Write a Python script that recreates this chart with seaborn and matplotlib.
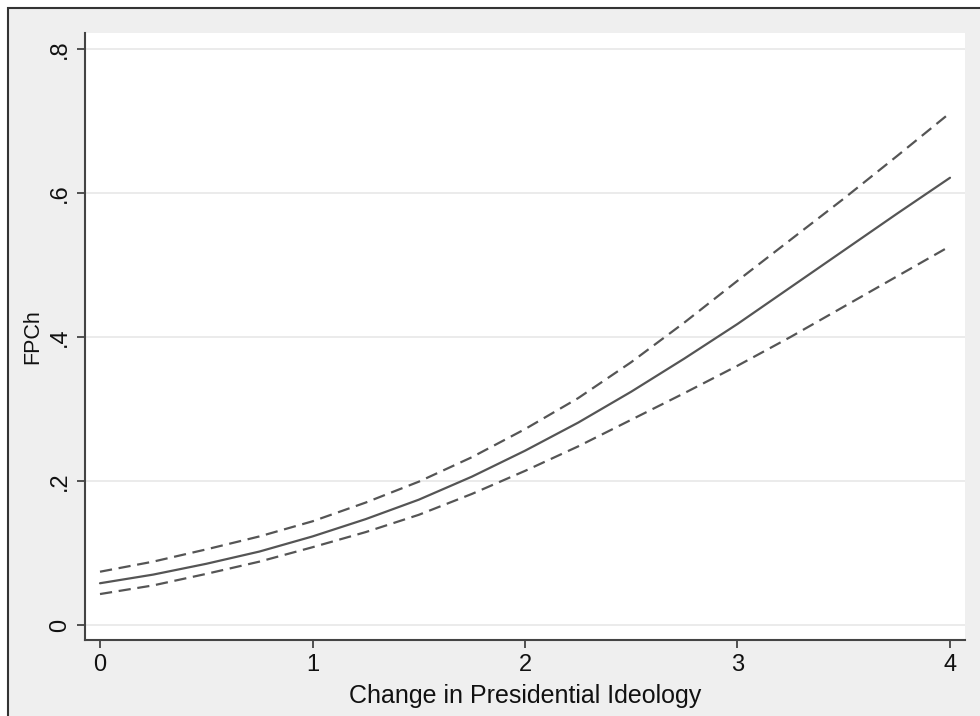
import numpy as np
import pandas as pd
import seaborn as sns
import matplotlib.pyplot as plt
from matplotlib.patches import Rectangle

# values
ideology = [0, 0.25, 0.5, 0.75, 1, 1.25, 1.5, 1.75, 2, 2.25, 2.5, 2.75, 3, 3.25, 3.5, 3.75, 4]
fpch = [0.058, 0.070, 0.085, 0.102, 0.123, 0.147, 0.174, 0.206, 0.242, 0.281, 0.324, 0.370, 0.418, 0.469, 0.520, 0.571, 0.621]
upper = [0.074, 0.088, 0.105, 0.123, 0.144, 0.170, 0.199, 0.233, 0.272, 0.315, 0.365, 0.420, 0.478, 0.535, 0.592, 0.651, 0.711]
lower = [0.043, 0.055, 0.071, 0.088, 0.108, 0.129, 0.153, 0.182, 0.214, 0.248, 0.285, 0.322, 0.360, 0.400, 0.442, 0.484, 0.526]

yticks = [0, 0.2, 0.4, 0.6, 0.8]
ytick_labels = ["0", ".2", ".4", ".6", ".8"]
xticks = [0, 1, 2, 3, 4]

df = pd.concat([
    pd.DataFrame({"x": ideology, "y": fpch, "series": "est"}),
    pd.DataFrame({"x": ideology, "y": upper, "series": "hi"}),
    pd.DataFrame({"x": ideology, "y": lower, "series": "lo"}),
])

sns.set_theme(style="white")
plt.rcParams['font.family'] = ['Liberation Sans', 'DejaVu Sans']

line_col = '#555555'
fig = plt.figure(figsize=(9.8, 7.16), dpi=100, facecolor='white')
# grey page with dark frame (left/top edges visible)
fig.patches.append(Rectangle((8 / 980, -0.05), 1.05, 1 - 8 / 716 + 0.05, transform=fig.transFigure,
                             facecolor='#efefef', edgecolor='#333333', linewidth=1.5, zorder=-10))

ax = fig.add_axes([85 / 980, 76 / 716, 880 / 980, 607 / 716])
ax.set_facecolor('white')

sns.lineplot(data=df, x="x", y="y", hue="series", style="series",
             palette={"est": line_col, "hi": line_col, "lo": line_col},
             dashes={"est": "", "hi": (5.5, 3), "lo": (5.5, 3)},
             linewidth=1.6, legend=False, ax=ax, zorder=3)

ax.set_xlim(-0.0706, 4.0706)
ax.set_ylim(-0.0208, 0.822)
ax.set_yticks(yticks)
ax.set_yticklabels(ytick_labels, rotation=90, va='center')
ax.set_xticks(xticks)
ax.yaxis.grid(True, color='#e8e8e8', linewidth=1.2)
ax.xaxis.grid(False)

for s in ['top', 'right']:
    ax.spines[s].set_visible(False)
for s in ['left', 'bottom']:
    ax.spines[s].set_color('#444444')
    ax.spines[s].set_linewidth(1.5)

ax.tick_params(axis='both', which='major', direction='out', length=6, width=1.3,
               color='#444444', labelsize=17, labelcolor='#111111', left=True, bottom=True, pad=4)

ax.set_xlabel("Change in Presidential Ideology", fontsize=18, color='#111111', labelpad=6)
ax.set_ylabel("FPCh", fontsize=15.5, color='#111111', labelpad=4)

fig.savefig("out.png", dpi=100, facecolor=fig.get_facecolor())
